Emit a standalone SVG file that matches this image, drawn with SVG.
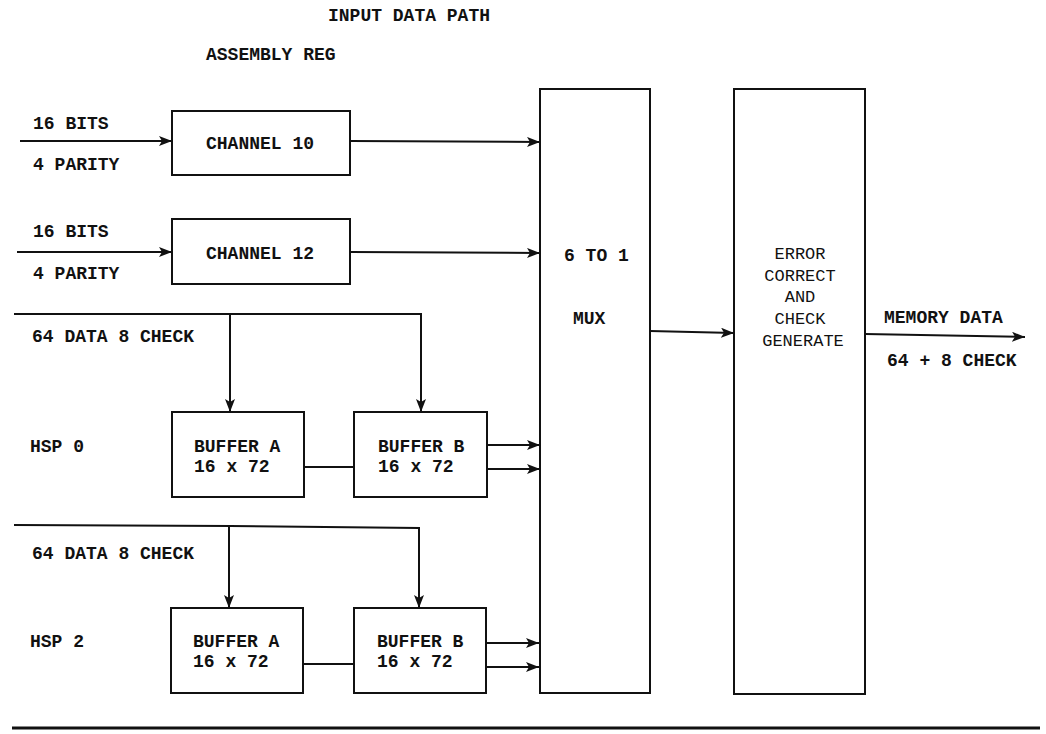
<svg xmlns="http://www.w3.org/2000/svg" width="1046" height="734" viewBox="0 0 1046 734">
<style>
text{font-family:"Liberation Mono","Courier New",monospace;font-size:18px;font-weight:bold;fill:#111}
.n{font-weight:normal;font-size:17px}
.box{fill:none;stroke:#111;stroke-width:2}
.ln{fill:none;stroke:#111;stroke-width:2}
</style>
<defs>
<marker id="ah" markerUnits="userSpaceOnUse" markerWidth="14" markerHeight="10" refX="13" refY="5" orient="auto">
<path d="M0,0 L13,5 L0,10 L3,5 Z" fill="#111"/>
</marker>
</defs>
<rect width="1046" height="734" fill="#fff"/>
<text x="328" y="21">INPUT DATA PATH</text>
<text x="206" y="60">ASSEMBLY REG</text>
<g id="labels">
<text x="33" y="129">16 BITS</text>
<text x="33" y="170">4 PARITY</text>
<text x="33" y="237">16 BITS</text>
<text x="33" y="279">4 PARITY</text>
<text x="32" y="342">64 DATA 8 CHECK</text>
<text x="30" y="452">HSP 0</text>
<text x="32" y="559">64 DATA 8 CHECK</text>
<text x="30" y="647">HSP 2</text>
<text x="884" y="323">MEMORY DATA</text>
<text x="887" y="366">64 + 8 CHECK</text>
</g>
<g id="ch10">
<rect class="box" x="172" y="111" width="178" height="64"/>
<text x="206" y="149">CHANNEL 10</text>
</g>
<g id="ch12">
<rect class="box" x="172" y="219" width="178" height="65"/>
<text x="206" y="259">CHANNEL 12</text>
</g>
<g id="hsp0a">
<rect class="box" x="172" y="412" width="132" height="85"/>
<text x="194" y="452">BUFFER A</text>
<text x="194" y="472">16 x 72</text>
</g>
<g id="hsp0b">
<rect class="box" x="354" y="412" width="133" height="85"/>
<text x="378" y="452">BUFFER B</text>
<text x="378" y="472">16 x 72</text>
</g>
<g id="hsp2a">
<rect class="box" x="171" y="608" width="132" height="85"/>
<text x="193" y="647">BUFFER A</text>
<text x="193" y="667">16 x 72</text>
</g>
<g id="hsp2b">
<rect class="box" x="354" y="608" width="132" height="85"/>
<text x="377" y="647">BUFFER B</text>
<text x="377" y="667">16 x 72</text>
</g>
<g id="mux">
<rect class="box" x="540" y="89" width="110" height="604"/>
<text x="564" y="261">6 TO 1</text>
<text x="573" y="324">MUX</text>
</g>
<g id="ecc">
<rect class="box" x="734" y="89" width="131" height="605"/>
<text class="n" x="800" y="259" text-anchor="middle">ERROR</text>
<text class="n" x="800" y="281" text-anchor="middle">CORRECT</text>
<text class="n" x="800" y="302" text-anchor="middle">AND</text>
<text class="n" x="800" y="324" text-anchor="middle">CHECK</text>
<text class="n" x="803" y="346" text-anchor="middle">GENERATE</text>
</g>
<g id="connectors">
<line class="ln" x1="20" y1="141" x2="172" y2="141" marker-end="url(#ah)"/>
<line class="ln" x1="17" y1="252" x2="172" y2="252" marker-end="url(#ah)"/>
<line class="ln" x1="350" y1="141" x2="540" y2="142" marker-end="url(#ah)"/>
<line class="ln" x1="350" y1="252" x2="540" y2="253" marker-end="url(#ah)"/>
<polyline class="ln" points="14,314 421,314 421,412" marker-end="url(#ah)"/>
<line class="ln" x1="230" y1="314" x2="230" y2="412" marker-end="url(#ah)"/>
<line class="ln" x1="304" y1="467" x2="354" y2="467"/>
<line class="ln" x1="487" y1="445" x2="540" y2="445" marker-end="url(#ah)"/>
<line class="ln" x1="487" y1="469" x2="540" y2="469" marker-end="url(#ah)"/>
<polyline class="ln" points="14,525 230,526 419,528 419,608" marker-end="url(#ah)"/>
<line class="ln" x1="229" y1="526" x2="229" y2="608" marker-end="url(#ah)"/>
<line class="ln" x1="303" y1="664" x2="354" y2="664"/>
<line class="ln" x1="486" y1="643" x2="539" y2="643" marker-end="url(#ah)"/>
<line class="ln" x1="486" y1="667" x2="539" y2="667" marker-end="url(#ah)"/>
<line class="ln" x1="650" y1="331" x2="734" y2="333" marker-end="url(#ah)"/>
<line class="ln" x1="865" y1="334" x2="1025" y2="337" marker-end="url(#ah)"/>
</g>
<line x1="12" y1="728" x2="1040" y2="728" stroke="#111" stroke-width="3"/>
</svg>
